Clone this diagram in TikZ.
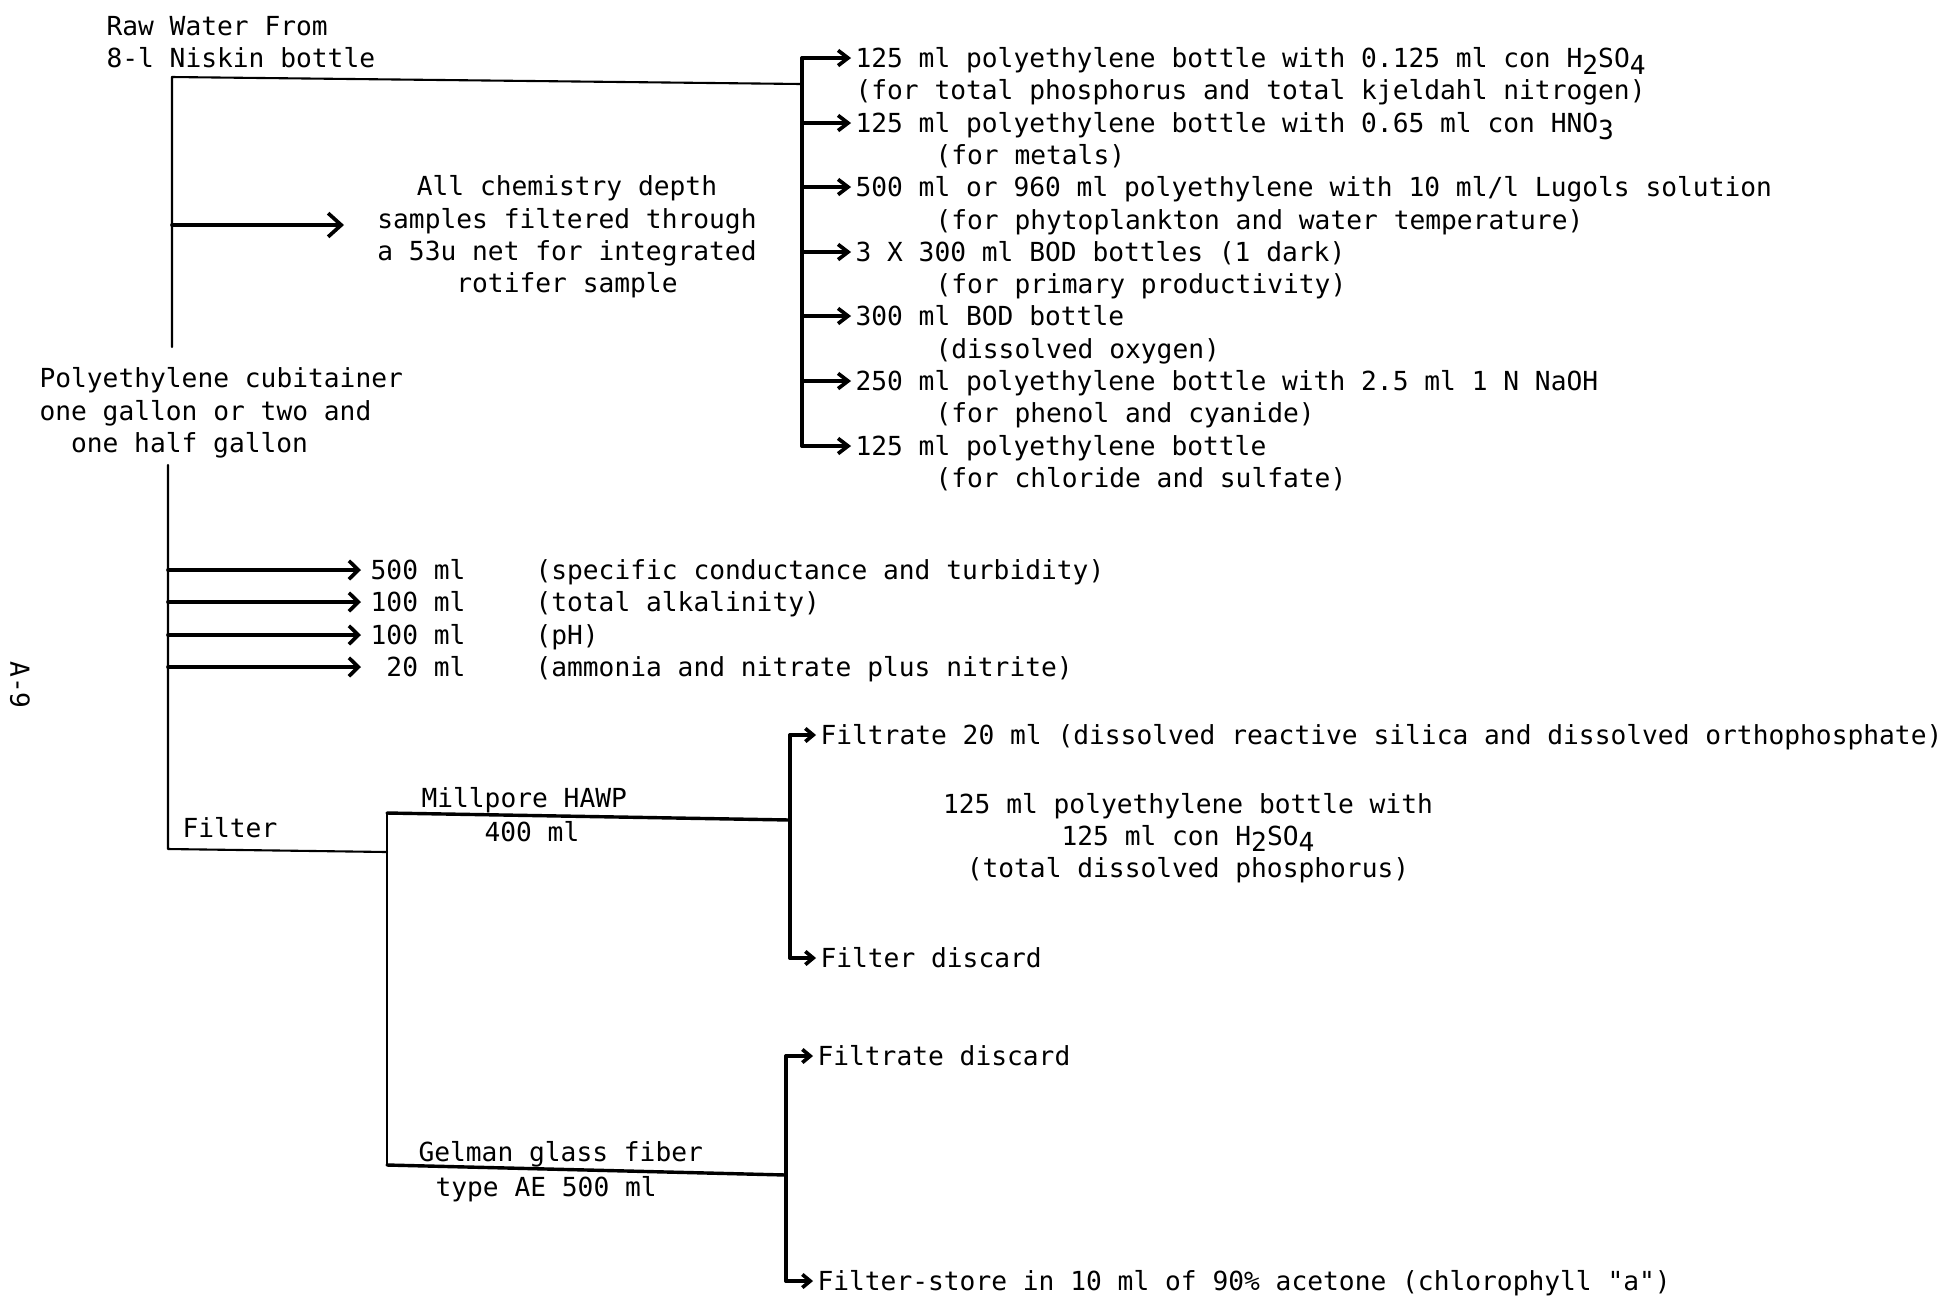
\documentclass[tikz,border=0pt]{standalone}
\usepackage{fontspec}
\setmonofont{DejaVu Sans Mono}
\usepackage{tikz}
\usetikzlibrary{arrows.meta, positioning, calc}
\newcommand{\lowd}[1]{\raisebox{-0.45ex}{#1}}

\begin{document}
\begin{tikzpicture}[x=0.381pt, y=-0.381pt, line cap=round, line join=round,
    every node/.style={font=\ttfamily\fontsize{10}{12.3}\selectfont, inner sep=0pt},
    txt/.style={anchor=west, text height=7.3pt, text depth=0pt},
    blk/.style={align=center},
    trunk/.style={line width=0.8pt},
    brk/.style={line width=1.3pt},
    arr/.style={line width=1.4pt, shorten >=1.5pt, -{Straight Barb[length=3.8pt, width=5.8pt]}},
    lowarr/.style={line width=1.4pt, -{Straight Barb[length=3.6pt, width=7pt]}},
    bigarr/.style={line width=1.4pt, -{Straight Barb[length=5pt, width=9pt]}},
    smallarr/.style={line width=1.4pt, shorten >=1.5pt, -{Straight Barb[length=3pt, width=5pt]}}]
    \fill[white] (0,0) rectangle (1951,1298);
    \useasboundingbox (0,0) rectangle (1951,1298);
    % Source and containers
    \node[anchor=west, align=left] (raw) at (106,42) {Raw Water From\\8-l Niskin bottle};
    \node[anchor=west, align=left] (cubit) at (39,413) {Polyethylene cubitainer\\one gallon or two and\\\hspace*{1.2em}one half gallon};
    \node[blk] (chem) at (567,237) {All chemistry depth\\samples filtered through\\a 53u net for integrated\\rotifer sample};
    \node[rotate=-90] (page) at (20,685) {A-9};
    % Bottles from the Niskin
    \node[txt] (tp) at (855,58) {125 ml polyethylene bottle with 0.125 ml con H\lowd{2}SO\lowd{4}};
    \node[txt] (tpuse) at (855,90) {(for total phosphorus and total kjeldahl nitrogen)};
    \node[txt] (met) at (855,123) {125 ml polyethylene bottle with 0.65 ml con HNO\lowd{3}};
    \node[txt] (metuse) at (935,155) {(for metals)};
    \node[txt] (phy) at (855,187) {500 ml or 960 ml polyethylene with 10 ml/l Lugols solution};
    \node[txt] (phyuse) at (935,220) {(for phytoplankton and water temperature)};
    \node[txt] (bod) at (855,252) {3 X 300 ml BOD bottles (1 dark)};
    \node[txt] (boduse) at (935,284) {(for primary productivity)};
    \node[txt] (oxy) at (855,316) {300 ml BOD bottle};
    \node[txt] (oxyuse) at (935,349) {(dissolved oxygen)};
    \node[txt] (cn) at (855,381) {250 ml polyethylene bottle with 2.5 ml 1 N NaOH};
    \node[txt] (cnuse) at (935,413) {(for phenol and cyanide)};
    \node[txt] (cl) at (855,446) {125 ml polyethylene bottle};
    \node[txt] (cluse) at (935,478) {(for chloride and sulfate)};
    % Cubitainer subsamples
    \node[anchor=east, text height=7.3pt, text depth=0pt] (v500) at (466,570) {500 ml};
    \node[anchor=east, text height=7.3pt, text depth=0pt] (v100a) at (466,602) {100 ml};
    \node[anchor=east, text height=7.3pt, text depth=0pt] (v100b) at (466,635) {100 ml};
    \node[anchor=east, text height=7.3pt, text depth=0pt] (v20) at (466,667) {20 ml};
    \node[txt] (sc) at (535,570) {(specific conductance and turbidity)};
    \node[txt] (alk) at (535,602) {(total alkalinity)};
    \node[txt] (ph) at (535,635) {(pH)};
    \node[txt] (nit) at (535,667) {(ammonia and nitrate plus nitrite)};
    % Filtering
    \node[txt] (filt) at (182,828) {Filter};
    \node[txt] (mill) at (421,798) {Millpore HAWP};
    \node[txt] (millvol) at (484,832) {400 ml};
    \node[txt] (gel) at (418,1152) {Gelman glass fiber};
    \node[txt] (gelvol) at (435,1187) {type AE 500 ml};
    \node[txt] (f20) at (820,735) {Filtrate 20 ml (dissolved reactive silica and dissolved orthophosphate)};
    \node[blk] (tdp) at (1188,838) {125 ml polyethylene bottle with\\125 ml con H\lowd{2}SO\lowd{4}\\(total dissolved phosphorus)};
    \node[txt] (fdis) at (820,958) {Filter discard};
    \node[txt] (fdis2) at (817,1056) {Filtrate discard};
    \node[txt] (fstore) at (817,1281) {Filter-store in 10 ml of 90\% acetone (chlorophyll "a")};
    % Junctions
    \coordinate (t1top) at (172,77);
    \coordinate (t1bot) at (172,347);
    \coordinate (rbj) at (802,84);
    \coordinate (rb) at (802,0);
    \coordinate (chemtip) at (344,225);
    \coordinate (t2top) at (168,465);
    \coordinate (t2bot) at (168,849);
    \coordinate (vtip) at (361,0);
    \coordinate (fj) at (387,852);
    \coordinate (mtop) at (387,813);
    \coordinate (mbot) at (387,1165);
    \coordinate (mj) at (790,820);
    \coordinate (gj) at (786,1175);
    % Lines
    \draw[trunk] (t1bot) -- (t1top) -- (rbj);
    \draw[brk] (rb |- tp.west) -- (rb |- cl.west);
    \draw[arr] (rb |- tp.west) -- (tp.west);
    \draw[arr] (rb |- met.west) -- (met.west);
    \draw[arr] (rb |- phy.west) -- (phy.west);
    \draw[arr] (rb |- bod.west) -- (bod.west);
    \draw[arr] (rb |- oxy.west) -- (oxy.west);
    \draw[arr] (rb |- cn.west) -- (cn.west);
    \draw[arr] (rb |- cl.west) -- (cl.west);
    \draw[bigarr] (t1top |- chemtip) -- (chemtip);
    \draw[trunk] (t2top) -- (t2bot) -- (fj);
    \draw[lowarr] (t2top |- v500.west) -- (vtip |- v500.west);
    \draw[lowarr] (t2top |- v100a.west) -- (vtip |- v100a.west);
    \draw[lowarr] (t2top |- v100b.west) -- (vtip |- v100b.west);
    \draw[lowarr] (t2top |- v20.west) -- (vtip |- v20.west);
    \draw[trunk] (mtop) -- (mbot);
    \draw[brk] (mtop) -- (mj);
    \draw[brk] (mbot) -- (gj);
    \draw[brk] (mj |- f20.west) -- (mj |- fdis.west);
    \draw[smallarr] (mj |- f20.west) -- (f20.west);
    \draw[smallarr] (mj |- fdis.west) -- (fdis.west);
    \draw[brk] (gj |- fdis2.west) -- (gj |- fstore.west);
    \draw[smallarr] (gj |- fdis2.west) -- (fdis2.west);
    \draw[smallarr] (gj |- fstore.west) -- (fstore.west);
\end{tikzpicture}
\end{document}
